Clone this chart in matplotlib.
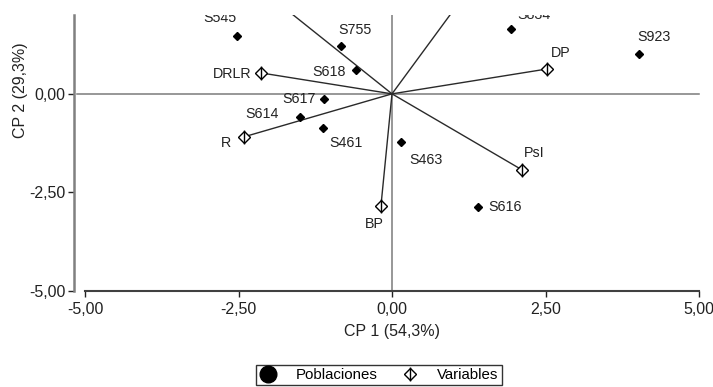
import matplotlib
matplotlib.use("Agg")
import matplotlib.pyplot as plt
from matplotlib.lines import Line2D
from matplotlib.legend_handler import HandlerTuple

plt.rcParams['font.family'] = ['Liberation Sans', 'DejaVu Sans']

# Populations (scores)
pop_names = ['S545', 'S755', 'S618', 'S617', 'S614', 'S461', 'S834', 'S923', 'S463', 'S616']
pop_x = [-2.52, -0.83, -0.59, -1.11, -1.50, -1.12, 1.94, 4.02, 0.14, 1.40]
pop_y = [1.47, 1.22, 0.61, -0.13, -0.58, -0.87, 1.64, 1.01, -1.23, -2.87]
pop_lab_x = [-2.80, -0.60, -1.03, -1.51, -2.12, -0.75, 2.31, 4.27, 0.55, 1.84]
pop_lab_y = [1.92, 1.62, 0.56, -0.13, -0.51, -1.24, 2.00, 1.45, -1.68, -2.87]

# Variables (loadings), the last two run out of the visible frame
var_names = ['DRLR', 'R', 'DP', 'PsI', 'BP', '', '']
var_x = [-2.13, -2.41, 2.52, 2.12, -0.18, -2.01, 1.18]
var_y = [0.53, -1.09, 0.63, -1.93, -2.84, 2.50, 2.50]
var_lab_x = [-2.61, -2.70, 2.75, 2.31, -0.29, 0, 0]
var_lab_y = [0.51, -1.24, 1.04, -1.50, -3.30, 0, 0]

xticks = [-5, -2.5, 0, 2.5, 5]
yticks = [-5, -2.5, 0]

fig = plt.figure(figsize=(7.13, 3.87), dpi=100)
ax = fig.add_axes([85 / 713, 1 - 291 / 387, 614 / 713, 276 / 387])
ax.set_xlim(-5, 5)
ax.set_ylim(-5, 2.0)

# reference axes through the origin
ax.plot([-5.13, 5], [0, 0], color='#7a7a7a', lw=1.1, clip_on=False, zorder=1)
ax.plot([0, 0], [-5, 2.0], color='#7a7a7a', lw=1.1, zorder=1)

# variable vectors
for vx, vy in zip(var_x, var_y):
    ax.plot([0, vx], [0, vy], color='#2a2a2a', lw=1.0, zorder=2)
ax.plot(var_x[:5], var_y[:5], linestyle='none', marker='D', ms=6.5,
        mfc='white', mec='black', mew=1.0, zorder=3)
ax.plot(var_x[:5], var_y[:5], linestyle='none', marker='|', ms=10,
        mec='black', mew=1.0, zorder=4)

# population points
ax.plot(pop_x, pop_y, linestyle='none', marker='D', ms=4.5, color='black', zorder=3)

for name, tx, ty in zip(pop_names, pop_lab_x, pop_lab_y):
    ax.text(tx, ty, name, ha='center', va='center', fontsize=10.3, color='#222222', clip_on=True)
for name, tx, ty in zip(var_names, var_lab_x, var_lab_y):
    if name:
        ax.text(tx, ty, name, ha='center', va='center', fontsize=10.3, color='#222222', clip_on=True)

# spines / ticks in the old statistics-package style
ax.spines['top'].set_visible(False)
ax.spines['right'].set_visible(False)
ax.spines['left'].set_position(('outward', 8))
ax.spines['left'].set_color('#808080')
ax.spines['left'].set_linewidth(1.8)
ax.spines['bottom'].set_color('#404040')
ax.spines['bottom'].set_linewidth(1.5)

ax.set_xticks(xticks)
ax.set_xticklabels([f"{t:.2f}".replace('.', ',') for t in xticks])
ax.set_yticks(yticks)
ax.set_yticklabels([f"{t:.2f}".replace('.', ',') for t in yticks])
ax.tick_params(axis='both', labelsize=11.5, length=4, width=1, colors='#222222')
ax.tick_params(axis='x', pad=4)
ax.tick_params(axis='y', pad=2)

ax.set_xlabel('CP 1 (54,3%)', fontsize=11.5, color='#222222', labelpad=5)
ax.set_ylabel('CP 2 (29,3%)', fontsize=11.5, color='#222222')
ax.yaxis.set_label_coords(-0.093, 0.728)

h_pop = Line2D([], [], linestyle='none', marker='o', ms=12, color='black')
h_dia = Line2D([], [], linestyle='none', marker='D', ms=6.5, mfc='white', mec='black', mew=1.0)
h_bar = Line2D([], [], linestyle='none', marker='|', ms=10, mec='black', mew=1.0)
leg = fig.legend([h_pop, (h_dia, h_bar)], ['Poblaciones', 'Variables'],
                 handler_map={tuple: HandlerTuple(ndivide=1)},
                 loc='center', bbox_to_anchor=(379 / 713, 1 - 375 / 387), ncol=2,
                 fontsize=10.8, frameon=True, fancybox=False, edgecolor='black',
                 borderpad=0.2, handlelength=1.2, handletextpad=1.2, columnspacing=1.6,
                 borderaxespad=0)
leg.get_frame().set_linewidth(1.0)

fig.savefig('out.png', dpi=100)
